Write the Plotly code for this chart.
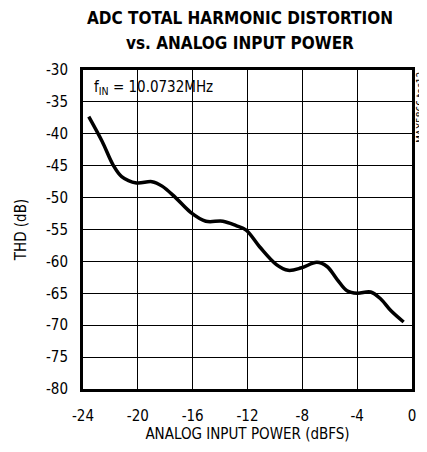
import plotly.graph_objects as go

input_power = [-23.58, -22.6, -21.8, -21.18, -20.1, -18.97, -18.23, -17.25, -16.15, -15.04,
               -13.8, -12.83, -12.1, -11.12, -9.89, -9.03, -8.05, -6.94, -6.2, -5.47,
               -4.74, -4.0, -3.02, -2.28, -1.55, -0.61]
thd = [-37.3, -41.2, -44.9, -46.7, -47.7, -47.5, -48.2, -50.0, -52.3, -53.7,
       -53.7, -54.4, -55.1, -57.7, -60.5, -61.4, -61.0, -60.15, -60.8, -62.8,
       -64.6, -65.0, -64.8, -65.9, -67.7, -69.5]

x_ticks = [-24, -20, -16, -12, -8, -4, 0]
y_ticks = [-30, -35, -40, -45, -50, -55, -60, -65, -70, -75, -80]

font_family = "DejaVu Sans Condensed, Liberation Sans, Arial"

fig = go.Figure()
fig.add_trace(go.Scatter(
    x=input_power, y=thd, mode="lines",
    line=dict(color="black", width=3.5, shape="spline", smoothing=1.0),
    showlegend=False, hoverinfo="skip",
))

fig.update_layout(
    width=419, height=444,
    margin=dict(l=74, r=11, t=62, b=49),
    paper_bgcolor="white", plot_bgcolor="white",
    font=dict(family=font_family, size=15, color="black"),
    xaxis=dict(
        range=[-24, 0], tickvals=x_ticks, ticktext=[str(v) for v in x_ticks],
        showgrid=True, gridcolor="black", gridwidth=1,
        showline=True, linecolor="black", linewidth=3, mirror=True,
        ticks="", zeroline=False, ticklabelstandoff=11,
        title=dict(text="ANALOG INPUT POWER (dBFS)", standoff=5, font=dict(size=15)),
        tickfont=dict(size=15),
    ),
    yaxis=dict(
        range=[-80, -30], tickvals=y_ticks, ticktext=[str(v) for v in y_ticks],
        showgrid=True, gridcolor="black", gridwidth=1,
        showline=True, linecolor="black", linewidth=3, mirror=True,
        ticks="", zeroline=False, ticklabelstandoff=9,
        title=dict(text="THD (dB)", standoff=16, font=dict(size=15)),
        tickfont=dict(size=15),
    ),
    annotations=[
        dict(text="<b>ADC TOTAL HARMONIC DISTORTION</b>", xref="paper", yref="paper",
             x=0.476, y=1.0, yshift=52, xanchor="center", yanchor="middle", showarrow=False,
             font=dict(family=font_family, size=17, color="black")),
        dict(text="<b>vs. ANALOG INPUT POWER</b>", xref="paper", yref="paper",
             x=0.476, y=1.0, yshift=27, xanchor="center", yanchor="middle", showarrow=False,
             font=dict(family=font_family, size=17, color="black")),
        dict(text="f<sub>IN</sub> = 10.0732MHz", xref="paper", yref="paper",
             x=0.0, y=1.0, xshift=9, yshift=-17, xanchor="left", yanchor="middle",
             showarrow=False, font=dict(family=font_family, size=15, color="black")),
        dict(text="MAX5866 toc12", xref="paper", yref="paper",
             x=1.0, y=1.0, xanchor="left", yanchor="top", xshift=1, textangle=-90,
             showarrow=False, font=dict(family=font_family, size=10, color="black")),
    ],
)

fig.write_html("out.html")
